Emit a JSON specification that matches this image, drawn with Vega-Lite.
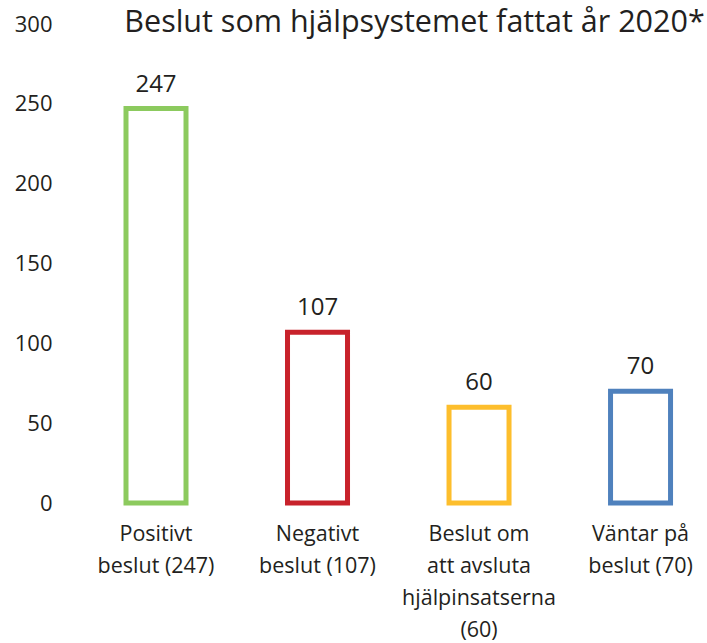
{
  "$schema": "https://vega.github.io/schema/vega-lite/v6.json",
  "width": 645,
  "height": 479,
  "autosize": {"type": "none"},
  "padding": {"left": 60, "top": 24, "right": 2, "bottom": 140},
  "background": "white",
  "config": {"view": {"stroke": null}},
  "title": {
    "text": "Beslut som hjälpsystemet fattat år 2020*",
    "frame": "group",
    "anchor": "middle",
    "dx": 32,
    "dy": 49,
    "offset": 0,
    "baseline": "alphabetic",
    "fontSize": 30.5,
    "font": "Open Sans",
    "fontWeight": "normal",
    "color": "#231f20"
  },
  "data": {
    "values": [
      {"kategori": "Positivt beslut (247)", "antal": 247},
      {"kategori": "Negativt beslut (107)", "antal": 107},
      {"kategori": "Beslut om att avsluta hjälpinsatserna (60)", "antal": 60},
      {"kategori": "Väntar på beslut (70)", "antal": 70}
    ]
  },
  "encoding": {
    "x": {
      "field": "kategori",
      "type": "nominal",
      "sort": null,
      "scale": {"paddingInner": 0.6285, "paddingOuter": 0.311, "align": 0.657},
      "axis": {
        "title": null,
        "domain": false,
        "ticks": false,
        "labelAngle": 0,
        "labelPadding": 20,
        "labelBaseline": "top",
        "labelLineHeight": 32,
        "labelFontSize": 21.5,
        "labelFont": "Open Sans",
        "labelColor": "#231f20",
        "labelOverlap": false,
        "labelBound": false,
        "labelLimit": 300,
        "labelExpr": "datum.label == 'Positivt beslut (247)' ? ['Positivt', 'beslut (247)'] : datum.label == 'Negativt beslut (107)' ? ['Negativt', 'beslut (107)'] : datum.label == 'Väntar på beslut (70)' ? ['Väntar på', 'beslut (70)'] : ['Beslut om', 'att avsluta', 'hjälpinsatserna', '(60)']"
      }
    },
    "y": {
      "field": "antal",
      "type": "quantitative",
      "scale": {"domain": [0, 300]},
      "axis": {
        "title": null,
        "domain": false,
        "ticks": false,
        "grid": false,
        "values": [0, 50, 100, 150, 200, 250, 300],
        "labelPadding": 8,
        "labelFontSize": 22,
        "labelFont": "Open Sans",
        "labelColor": "#231f20"
      }
    }
  },
  "layer": [
    {
      "mark": {"type": "bar", "filled": false, "strokeWidth": 5, "fill": "white"},
      "encoding": {
        "stroke": {
          "field": "kategori",
          "type": "nominal",
          "scale": {
            "domain": ["Positivt beslut (247)", "Negativt beslut (107)", "Beslut om att avsluta hjälpinsatserna (60)", "Väntar på beslut (70)"],
            "range": ["#8CCA5E", "#C8222B", "#FDBE2C", "#4F81BD"]
          },
          "legend": null
        }
      }
    },
    {
      "mark": {"type": "text", "baseline": "alphabetic", "dy": -17, "fontSize": 24, "font": "Open Sans", "color": "#231f20"},
      "encoding": {"text": {"field": "antal", "type": "quantitative"}}
    }
  ]
}
